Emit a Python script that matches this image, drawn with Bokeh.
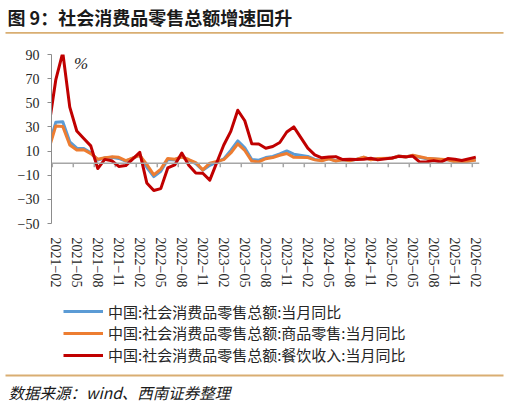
from bokeh.plotting import figure
from bokeh.layouts import column
from bokeh.models import (Range1d, FixedTicker, Span, Label, Legend, LegendItem,
                          ColumnDataSource)
from bokeh.embed import file_html
from bokeh.resources import INLINE

# ---------------- data ----------------
months = ["2021-01",
          "2021-02", "2021-03", "2021-04", "2021-05", "2021-06", "2021-07", "2021-08", "2021-09", "2021-10", "2021-11", "2021-12",
          "2022-02", "2022-03", "2022-04", "2022-05", "2022-06", "2022-07", "2022-08", "2022-09", "2022-10", "2022-11", "2022-12",
          "2023-02", "2023-03", "2023-04", "2023-05", "2023-06", "2023-07", "2023-08", "2023-09", "2023-10", "2023-11", "2023-12",
          "2024-02", "2024-03", "2024-04", "2024-05", "2024-06", "2024-07", "2024-08", "2024-09", "2024-10", "2024-11", "2024-12",
          "2025-02", "2025-03", "2025-04", "2025-05", "2025-06", "2025-07", "2025-08", "2025-09", "2025-10", "2025-11", "2025-12",
          "2026-02"]

total_yoy = [14,
             33.8, 34.2, 17.7, 12.4, 12.1, 8.5, 2.5, 4.4, 4.9, 3.9, 1.7,
             6.7, -3.5, -11.1, -6.7, 3.1, 2.7, 5.4, 2.5, -0.5, -5.9, -1.8,
             3.5, 10.6, 18.4, 12.7, 3.1, 2.5, 4.6, 5.5, 7.6, 10.1, 7.4,
             5.5, 3.1, 2.3, 3.7, 2.0, 2.7, 2.1, 3.2, 4.8, 3.0, 3.7,
             4.0, 5.9, 5.1, 6.4, 4.8, 3.7, 3.4, 3.0, 2.9, 1.3, 0.9,
             2.8]

goods_yoy = [11.5,
             30.7, 30.4, 15.1, 10.9, 11.1, 7.9, 3.3, 4.5, 5.2, 4.8, 2.1,
             6.5, -1.0, -9.7, -5.0, 3.9, 3.2, 5.1, 3.0, 0.5, -5.6, 0.0,
             2.9, 8.4, 15.9, 10.5, 1.7, 1.0, 3.7, 4.6, 6.5, 8.0, 4.8,
             4.6, 2.7, 2.0, 3.6, 1.7, 2.7, 2.0, 3.3, 5.0, 2.8, 3.9,
             4.0, 5.9, 5.1, 6.5, 5.3, 4.0, 3.6, 3.3, 2.8, 1.0, 0.7,
             2.5]

catering_yoy = [30,
                68.9, 91.6, 46.4, 26.6, 20.4, 14.3, -4.5, 3.1, 2.0, -2.7, -2.0,
                8.9, -16.4, -22.7, -21.1, -4.0, -1.5, 8.4, -1.7, -8.1, -8.4, -14.1,
                15.0, 26.3, 43.8, 35.1, 16.1, 15.8, 12.4, 13.8, 17.1, 25.8, 30.0,
                12.5, 6.9, 4.4, 5.0, 5.4, 3.0, 3.3, 3.1, 3.2, 4.0, 2.7,
                4.3, 5.6, 5.2, 5.9, 0.9, 1.1, 2.1, 0.9, 3.8, 3.2, 2.2,
                5.0]

x_tick_labels = ["2021-02", "2021-05", "2021-08", "2021-11", "2022-02", "2022-05", "2022-08",
                 "2022-11", "2023-02", "2023-05", "2023-08", "2023-11", "2024-02", "2024-05",
                 "2024-08", "2024-11", "2025-02", "2025-05", "2025-08", "2025-11", "2026-02"]
y_ticks = [-50, -30, -10, 10, 30, 50, 70, 90]

series_names = ["中国:社会消费品零售总额:当月同比",
                "中国:社会消费品零售总额:商品零售:当月同比",
                "中国:社会消费品零售总额:餐饮收入:当月同比"]
series_colors = ["#5B9BD5", "#ED7D31", "#C00000"]

title_text = "图 9：社会消费品零售总额增速回升"
source_text = "数据来源：wind、西南证券整理"

W = 508
serif = "Liberation Serif"
cjk = "Noto Sans CJK SC"
rule_color = "#D9AE72"
text_color = "#262626"


def month_index(s):
    y, m = s.split("-")
    return (int(y) - 2021) * 12 + (int(m) - 1)


xs = [month_index(s) for s in months]
label_pos = [month_index(s) for s in x_tick_labels]


def blank_fig(h):
    f = figure(width=W, height=h, output_backend="svg", toolbar_location=None,
               x_range=Range1d(0, W), y_range=Range1d(h, 0),
               x_axis_type=None, y_axis_type=None,
               min_border_left=0, min_border_right=0, min_border_top=0, min_border_bottom=0)
    f.outline_line_color = None
    f.xgrid.visible = False
    f.ygrid.visible = False
    f.frame_align = False
    return f


# ---------------- title strip ----------------
top = blank_fig(40)
top.add_layout(Label(x=7, y=16, text=title_text, text_font=cjk, text_font_style="bold",
                     text_font_size="18px", text_baseline="middle", text_align="left",
                     text_color="#1a1a1a"))
top.segment(x0=[5], x1=[503], y0=[32.3], y1=[32.3], line_color=rule_color, line_width=1.8)

# ---------------- main chart ----------------
p = figure(width=W, height=252, output_backend="svg", toolbar_location=None,
           x_range=Range1d(0.39, 61.53), y_range=Range1d(-50, 90),
           min_border_left=51, min_border_right=29, min_border_top=14, min_border_bottom=69)
p.frame_align = False
p.outline_line_color = None
p.xgrid.visible = False
p.ygrid.visible = False

p.yaxis.ticker = FixedTicker(ticks=y_ticks)
p.yaxis.major_label_overrides = {t: (str(t) if t >= 0 else "\u2212" + str(-t)) for t in y_ticks}
p.yaxis.axis_line_color = "#8C8C8C"
p.yaxis.axis_line_width = 1
p.yaxis.major_tick_line_color = "#8C8C8C"
p.yaxis.major_tick_in = 0
p.yaxis.major_tick_out = 4
p.yaxis.minor_tick_line_color = None
p.yaxis.major_label_standoff = 8
p.yaxis.major_label_text_font = serif
p.yaxis.major_label_text_font_size = "14px"
p.yaxis.major_label_text_color = text_color

p.xaxis.ticker = FixedTicker(ticks=label_pos)
p.xaxis.major_label_overrides = {i: s.replace("-", "\u2212") for i, s in zip(label_pos, x_tick_labels)}
p.xaxis.major_label_orientation = "vertical"
p.xaxis.axis_line_color = None
p.xaxis.major_tick_line_color = None
p.xaxis.minor_tick_line_color = None
p.xaxis.major_tick_out = 0
p.xaxis.major_tick_in = 0
p.xaxis.major_label_standoff = 14
p.xaxis.major_label_text_font = serif
p.xaxis.major_label_text_font_size = "14px"
p.xaxis.major_label_text_color = text_color

p.add_layout(Span(location=0, dimension="width", line_color="#A6A6A6", line_width=1.5))
tick_marks = [i - 0.5 for i in label_pos]
p.segment(x0=tick_marks, x1=tick_marks, y0=[0] * len(tick_marks), y1=[-3.3] * len(tick_marks),
          line_color="#A6A6A6", line_width=1.5)

for vals, col in zip([total_yoy, goods_yoy, catering_yoy], series_colors):
    src = ColumnDataSource(dict(x=xs, y=vals))
    p.line("x", "y", source=src, line_color=col, line_width=3, line_join="round")

p.add_layout(Label(x=3.6, y=82.5, text="%", text_font=serif, text_font_style="italic",
                   text_font_size="17px", text_baseline="middle", text_align="left",
                   text_color=text_color))

# ---------------- legend + source strip ----------------
BH = 113
bot = blank_fig(BH)
nan = float("nan")
row_bottoms = [83.5, 61.7, 39.9]   # one legend row each, offset from strip bottom
for name, col, yb in zip(series_names, series_colors, row_bottoms):
    r = bot.line(x=[nan], y=[nan], line_color=col, line_width=3)
    bot.add_layout(Legend(items=[LegendItem(label=name, renderers=[r])],
                          location=(63, yb), orientation="vertical",
                          glyph_width=40, glyph_height=20, label_height=20, label_standoff=5,
                          spacing=0, padding=0, margin=0, border_line_color=None,
                          background_fill_alpha=0, label_text_font=cjk,
                          label_text_font_size="15px", label_text_color=text_color))
bot.segment(x0=[5], x1=[503], y0=[83], y1=[83], line_color=rule_color, line_width=1.8)
bot.add_layout(Label(x=8, y=99.7, text=source_text, text_font=cjk, text_font_style="italic",
                     text_font_size="15.5px", text_baseline="middle", text_align="left",
                     text_color="#1a1a1a"))

layout = column(top, p, bot, spacing=0)
open("out.html", "w").write(file_html(layout, INLINE))
